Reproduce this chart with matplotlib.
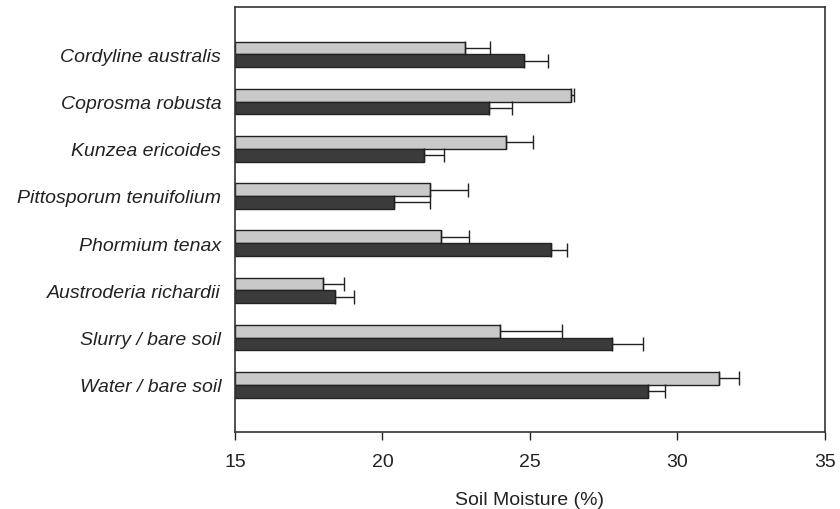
import matplotlib
matplotlib.use("Agg")
import matplotlib.pyplot as plt
import numpy as np

plt.rcParams['font.family'] = ['Liberation Sans', 'DejaVu Sans']

categories = ["Cordyline australis", "Coprosma robusta", "Kunzea ericoides",
              "Pittosporum tenuifolium", "Phormium tenax", "Austroderia richardii",
              "Slurry / bare soil", "Water / bare soil"]
light_vals = [22.8, 26.4, 24.2, 21.6, 22.0, 18.0, 24.0, 31.4]
light_err = [0.85, 0.1, 0.9, 1.3, 0.95, 0.7, 2.1, 0.7]
dark_vals = [24.8, 23.6, 21.4, 20.4, 25.7, 18.4, 27.8, 29.0]
dark_err = [0.8, 0.8, 0.7, 1.2, 0.55, 0.65, 1.05, 0.6]
xticks = [15, 20, 25, 30, 35]

fig = plt.figure(figsize=(8.4, 5.1), dpi=100)
ax = fig.add_axes([0.2798, 0.151, 0.702, 0.833])

y = np.arange(len(categories))
h = 0.27
ax.barh(y - h / 2, np.array(light_vals) - 15, left=15, height=h, color='#c9c9c9',
        edgecolor='#222222', linewidth=1.0, zorder=2)
ax.barh(y + h / 2, np.array(dark_vals) - 15, left=15, height=h, color='#3b3b3b',
        edgecolor='#222222', linewidth=1.0, zorder=2)
ax.errorbar(light_vals, y - h / 2, xerr=[np.zeros(len(y)), light_err], fmt='none',
            ecolor='#222222', elinewidth=1.0, capsize=5, capthick=1.0, zorder=3)
ax.errorbar(dark_vals, y + h / 2, xerr=[np.zeros(len(y)), dark_err], fmt='none',
            ecolor='#222222', elinewidth=1.0, capsize=5, capthick=1.0, zorder=3)

ax.set_xlim(15, 35)
ax.set_ylim(8, -1)
ax.set_xticks(xticks)
ax.set_xticklabels([str(t) for t in xticks], fontsize=14, color='#222222')
ax.set_yticks(y)
ax.set_yticklabels(categories, fontsize=14, style='italic', color='#222222')
ax.tick_params(axis='y', length=0, pad=10)
ax.tick_params(axis='x', length=6, width=1.0, direction='out', pad=9, color='#222222')
ax.set_xlabel("Soil Moisture (%)", fontsize=14, color='#222222', labelpad=15)
for s in ax.spines.values():
    s.set_color('#333333')
    s.set_linewidth(1.2)

fig.savefig("out.png", dpi=100)
